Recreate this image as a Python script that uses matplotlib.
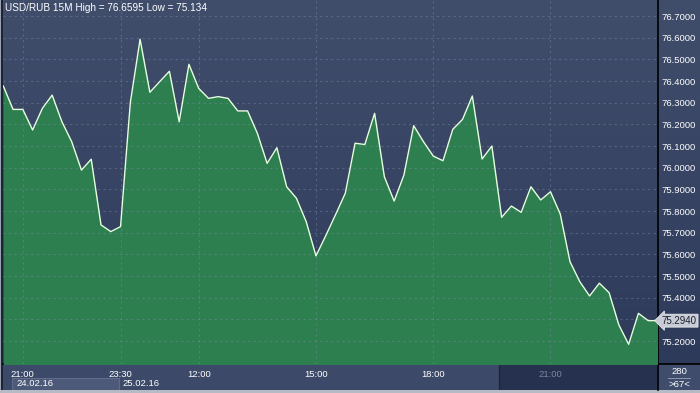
import numpy as np
import matplotlib
matplotlib.use("Agg")
import matplotlib.pyplot as plt
from matplotlib.patches import Rectangle

# USD/RUB 15M closes
prices = [76.377, 76.269, 76.269, 76.174, 76.274, 76.335, 76.212, 76.120, 75.989, 76.039,
          75.736, 75.705, 75.728, 76.300, 76.593, 76.348, 76.397, 76.445, 76.212, 76.477,
          76.366, 76.320, 76.328, 76.320, 76.262, 76.262, 76.159, 76.020, 76.092, 75.912,
          75.859, 75.751, 75.593, 75.686, 75.783, 75.882, 76.113, 76.107, 76.251, 75.958,
          75.846, 75.966, 76.194, 76.120, 76.054, 76.032, 76.177, 76.223, 76.331, 76.040,
          76.100, 75.771, 75.823, 75.794, 75.912, 75.851, 75.889, 75.786, 75.566, 75.474,
          75.408, 75.467, 75.423, 75.274, 75.185, 75.328, 75.294, 75.294]
time_idx = [2, 12, 20, 32, 44, 56]
time_labels = ["21:00", "23:30", "12:00", "15:00", "18:00", "21:00"]
price_ticks = [75.2, 75.3, 75.4, 75.5, 75.6, 75.7, 75.8, 75.9, 76.0,
               76.1, 76.2, 76.3, 76.4, 76.5, 76.6, 76.7]
title = "USD/RUB 15M High = 76.6595 Low = 75.134"
last_price = 75.2940

FONT = "Liberation Sans"
FS = 6.8
W, H = 700, 393

fig = plt.figure(figsize=(W / 100, H / 100), dpi=100)

# background canvas in pixel coords
bg = fig.add_axes([0, 0, 1, 1], zorder=0)
bg.set_xlim(0, W)
bg.set_ylim(H, 0)
bg.axis("off")
grad = np.linspace(0, 1, 256).reshape(-1, 1)
top = np.array([0x40, 0x4e, 0x6c]) / 255
bot = np.array([0x2e, 0x3a, 0x5a]) / 255
img = top + (bot - top) * grad[:, :, None]
bg.imshow(img, extent=(0, W, 364, 0), aspect="auto", zorder=0)

# bottom time strip
bg.add_patch(Rectangle((0, 364), 700, 26, fc="#3c4968", ec="none", zorder=1))
bg.add_patch(Rectangle((499, 364), 158, 26, fc="#25314e", ec="none", zorder=2))
bg.plot([499, 499], [364, 389], color="#1e2638", lw=1, zorder=3)
bg.add_patch(Rectangle((12, 377.5), 107, 13, fc="#4c5979", ec="#5f6c8a", lw=0.8, zorder=3))
bg.text(16, 384, "24.02.16", color="white", fontsize=FS, family=FONT, va="center", zorder=4)
bg.text(122, 384, "25.02.16", color="white", fontsize=FS, family=FONT, va="center", zorder=4)
# bottom-right counter box
bg.add_patch(Rectangle((658, 364), 42, 26, fc="#3f4c6b", ec="none", zorder=3))
bg.plot([668, 690], [378, 378], color="#9aa3b8", lw=0.6, zorder=4)
bg.text(679, 372, "280", color="white", fontsize=FS, family=FONT, ha="center", va="center", zorder=4)
bg.text(679, 384.5, ">67<", color="white", fontsize=FS, family=FONT, ha="center", va="center", zorder=4)
# frame
bg.add_patch(Rectangle((0, 390), 700, 3, fc="#b6bac4", ec="none", zorder=5))
bg.add_patch(Rectangle((0, 0), 1, 390, fc="#9aa1b0", ec="none", zorder=5))
bg.add_patch(Rectangle((1, 0), 2, 390, fc="#1d2436", ec="none", zorder=5))
bg.plot([3, 700], [364, 364], color="black", lw=1.2, zorder=5)
bg.plot([657.5, 657.5], [0, 390], color="black", lw=1.2, zorder=5)

# main chart
ax = fig.add_axes([3 / W, 29 / H, 654 / W, 364 / H], zorder=2)
ax.set_facecolor("none")
x = np.arange(len(prices))
ax.fill_between(x, prices, 75.0, color="#2d7f4f", lw=0, zorder=1)
ax.plot(x, prices, color="#e6ffdc", lw=1.0, zorder=3)
ax.set_xlim(-0.03, 66.9)
ax.set_ylim(75.094, 76.774)

ax.set_yticks(price_ticks)
# the 75.3000 label sits under the last-price marker
ax.set_yticklabels(["" if abs(v - 75.3) < 1e-9 else "%.4f" % v for v in price_ticks])
ax.yaxis.tick_right()
ax.set_xticks(time_idx)
ax.set_xticklabels(time_labels)
ax.tick_params(axis="both", length=0, labelcolor="white", labelsize=FS)
ax.tick_params(axis="y", pad=3)
ax.tick_params(axis="x", pad=4)
for lab in ax.get_xticklabels() + ax.get_yticklabels():
    lab.set_family(FONT)
ax.get_xticklabels()[-1].set_color("#7c879e")

ax.grid(True, color="#7d89a6", alpha=0.45, lw=0.8, ls=(0, (2, 3)), zorder=2)
for s in ax.spines.values():
    s.set_visible(False)

ax.text(0.003, 0.978, title, transform=ax.transAxes, color="white",
        fontsize=FS + 0.4, family=FONT, va="center", ha="left", zorder=5)

ax.text(1.007, last_price, "%.4f" % last_price,
        transform=ax.get_yaxis_transform(), color="#1a2030", fontsize=FS + 0.2,
        family=FONT, va="center", ha="left", zorder=6, clip_on=False,
        bbox=dict(boxstyle="larrow,pad=0.15", fc="#c9ccd4", ec="#e6e8ee", lw=0.6))

fig.savefig("out.png", dpi=100)
